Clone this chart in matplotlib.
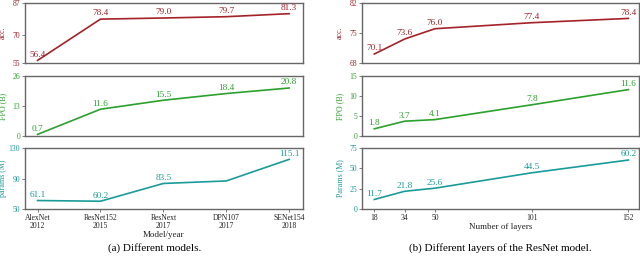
import matplotlib
matplotlib.use("Agg")
import matplotlib.pyplot as plt

plt.rcParams["font.family"] = ["Liberation Serif", "DejaVu Serif"]

RED = "#a32228"; GREEN = "#2ca02c"; TEAL = "#1b9a9a"; SPINE = "#666666"; INK = "#222222"

# (a) different models
models = ["AlexNet\n2012", "ResNet152\n2015", "ResNext\n2017", "DPN107\n2017", "SENet154\n2018"]
model_acc = [56.4, 78.4, 79.0, 79.7, 81.3]
model_fpo = [0.7, 11.6, 15.5, 18.4, 20.8]
model_params = [61.1, 60.2, 83.5, 86.8, 115.1]
model_params_labels = ["61.1", "60.2", "83.5", None, "115.1"]

# (b) different ResNet depths
layers = [18, 34, 50, 101, 152]
layer_acc = [70.1, 73.6, 76.0, 77.4, 78.4]
layer_fpo = [1.8, 3.7, 4.1, 7.8, 11.6]
layer_params = [11.7, 21.8, 25.6, 44.5, 60.2]

W, H = 640, 257
fig = plt.figure(figsize=(W / 100, H / 100), dpi=100)

rows = [(3, 63), (76, 136), (148, 209)]
cols = [(25, 303), (362, 639)]


def make_ax(col, row):
    x0, x1 = cols[col]; y0, y1 = rows[row]
    ax = fig.add_axes([x0 / W, 1 - y1 / H, (x1 - x0) / W, (y1 - y0) / H])
    for s in ax.spines.values():
        s.set_color(SPINE); s.set_linewidth(1.0)
    ax.tick_params(length=2, width=0.6, color=SPINE, labelsize=5.5, pad=1.5)
    return ax


def panel(ax, xs, ys, color, ylabel, ylim, yticks, labels=None, bottom=False):
    ax.plot(xs, ys, color=color, linewidth=1.2)
    if labels is None:
        labels = [f"{v:.1f}" for v in ys]
    for x, y, t in zip(xs, ys, labels):
        if t:
            ax.annotate(t, (x, y), textcoords="offset points", xytext=(0, 1.2),
                        ha="center", va="bottom", fontsize=6.7, color=color)
    ax.set_ylim(*ylim); ax.set_yticks(yticks)
    ax.tick_params(axis="y", labelcolor=color)
    ax.set_ylabel(ylabel, color=color, fontsize=5.8)
    ax.yaxis.set_label_coords(-0.065, 0.5)
    if not bottom:
        ax.tick_params(axis="x", bottom=False, labelbottom=False)
    else:
        ax.tick_params(axis="x", labelcolor=INK)


xi = list(range(len(models)))
axes_a = [make_ax(0, r) for r in range(3)]
panel(axes_a[0], xi, model_acc, RED, "acc.", (55, 87), [55, 70, 87])
panel(axes_a[1], xi, model_fpo, GREEN, "FPO (B)", (0, 26), [0, 13, 26])
panel(axes_a[2], xi, model_params, TEAL, "params (M)", (50, 130), [50, 90, 130],
      labels=model_params_labels, bottom=True)
for ax in axes_a:
    ax.set_xlim(-0.2, 4.22)
axes_a[2].set_xticks(xi)
axes_a[2].set_xticklabels(models, linespacing=1.0)
axes_a[2].set_xlabel("Model/year", fontsize=6.5, color=INK, labelpad=1)

axes_b = [make_ax(1, r) for r in range(3)]
panel(axes_b[0], layers, layer_acc, RED, "acc.", (68, 82), [68, 75, 82])
panel(axes_b[1], layers, layer_fpo, GREEN, "FPO (B)", (0, 15), [0, 5, 10, 15])
panel(axes_b[2], layers, layer_params, TEAL, "Params (M)", (0, 75), [0, 25, 50, 75], bottom=True)
for ax in axes_b:
    ax.set_xlim(11.5, 157.6)
axes_b[2].set_xticks(layers)
axes_b[2].set_xlabel("Number of layers", fontsize=6.5, color=INK, labelpad=1)

fig.text(155 / W, 1 - 248 / H, "(a) Different models.", ha="center", va="center",
         fontsize=8, color="black")
fig.text(500 / W, 1 - 248 / H, "(b) Different layers of the ResNet model.", ha="center",
         va="center", fontsize=8, color="black")

fig.savefig("out.png", dpi=100)
